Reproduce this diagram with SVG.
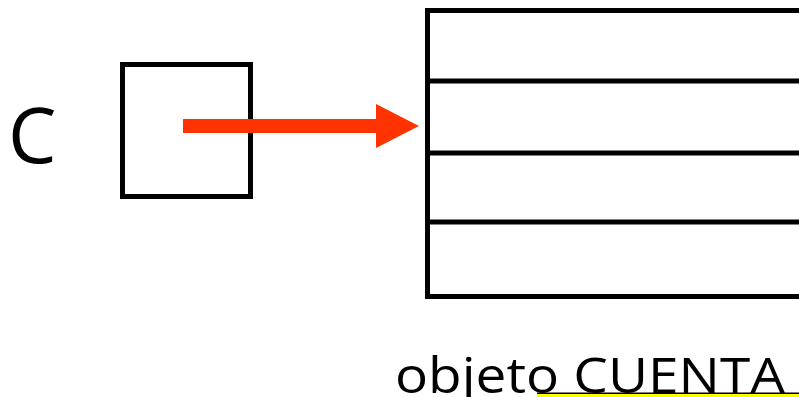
<svg xmlns="http://www.w3.org/2000/svg" width="799" height="397" viewBox="0 0 799 397">
  <style>
    .box { fill: #ffffff; stroke: #000000; stroke-width: 5; }
    .row { stroke: #000000; stroke-width: 5; fill: none; }
    .lbl { font-family: "Open Sans", "Noto Sans", "DejaVu Sans", sans-serif; fill: #000000; }
    .ptr { stroke: #ff3300; stroke-width: 14; fill: none; }
  </style>
  <defs>
    <marker id="head" markerUnits="userSpaceOnUse" markerWidth="44" markerHeight="46" refX="2" refY="23" orient="auto">
      <path d="M0,1 L43,23 L0,45 Z" fill="#ff3300"/>
    </marker>
  </defs>
  <rect width="799" height="397" fill="#ffffff"/>
  <g id="node-c">
    <text class="lbl" x="8" y="163" font-size="77">C</text>
    <rect class="box" x="122.5" y="64.5" width="128" height="132"/>
  </g>
  <g id="node-cuenta">
    <rect class="box" x="427.5" y="10.5" width="380" height="286"/>
    <line class="row" x1="427" y1="81" x2="799" y2="81"/>
    <line class="row" x1="427" y1="153" x2="799" y2="153"/>
    <line class="row" x1="427" y1="222" x2="799" y2="222"/>
    <text class="lbl" x="395" y="393" font-size="49" textLength="390" lengthAdjust="spacingAndGlyphs">objeto CUENTA</text>
    <rect x="537" y="392.5" width="262" height="1.5" fill="#000000"/>
    <rect x="537" y="394" width="262" height="3" fill="#ffff00"/>
  </g>
  <g id="connectors">
    <line class="ptr" x1="183" y1="126" x2="378" y2="126" marker-end="url(#head)"/>
  </g>
</svg>
